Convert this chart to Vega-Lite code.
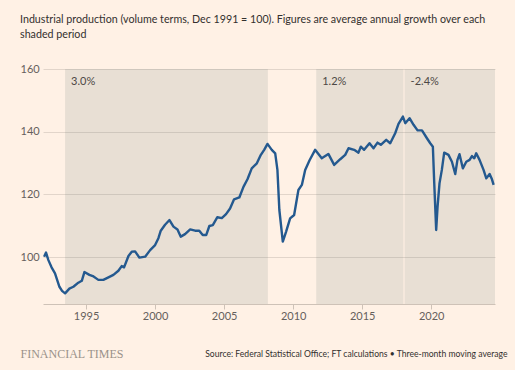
{
  "$schema": "https://vega.github.io/schema/vega-lite/v6.json",
  "width": 452,
  "height": 235,
  "autosize": {"type": "none"},
  "padding": {"left": 43, "top": 69, "right": 20, "bottom": 66},
  "background": "#FFF1E5",
  "config": {
    "view": {"stroke": null},
    "font": "Lato"
  },
  "title": {
    "text": ["Industrial production (volume terms, Dec 1991 = 100). Figures are average annual growth over each", "shaded period"],
    "anchor": "start",
    "frame": "group",
    "dx": -23,
    "offset": 22,
    "font": "Lato",
    "fontSize": 10.7,
    "fontWeight": "normal",
    "color": "#33302E",
    "lineHeight": 15
  },
  "datasets": {
    "periods": [
      {"start": 1993.48, "end": 2008.17, "label": "3.0%"},
      {"start": 2011.67, "end": 2017.99, "label": "1.2%"},
      {"start": 2018.07, "end": 2024.62, "label": "-2.4%"}
    ],
    "ip": [
      {"year": 1991.96, "value": 100.1},
      {"year": 1992.1, "value": 101.4},
      {"year": 1992.27, "value": 99.0},
      {"year": 1992.5, "value": 96.7},
      {"year": 1992.75, "value": 94.8},
      {"year": 1993.07, "value": 90.5},
      {"year": 1993.26, "value": 89.2},
      {"year": 1993.48, "value": 88.4},
      {"year": 1993.79, "value": 89.9},
      {"year": 1994.08, "value": 90.5},
      {"year": 1994.44, "value": 91.8},
      {"year": 1994.69, "value": 92.4},
      {"year": 1994.88, "value": 95.2},
      {"year": 1995.24, "value": 94.3},
      {"year": 1995.49, "value": 93.9},
      {"year": 1995.89, "value": 92.7},
      {"year": 1996.25, "value": 92.7},
      {"year": 1996.62, "value": 93.5},
      {"year": 1996.98, "value": 94.3},
      {"year": 1997.34, "value": 95.6},
      {"year": 1997.58, "value": 97.1},
      {"year": 1997.75, "value": 96.7},
      {"year": 1998.07, "value": 100.3},
      {"year": 1998.31, "value": 101.7},
      {"year": 1998.55, "value": 101.8},
      {"year": 1998.86, "value": 99.8},
      {"year": 1999.28, "value": 100.1},
      {"year": 1999.64, "value": 102.2},
      {"year": 2000.0, "value": 103.8},
      {"year": 2000.24, "value": 106.0},
      {"year": 2000.41, "value": 108.4},
      {"year": 2000.72, "value": 110.3},
      {"year": 2001.04, "value": 111.8},
      {"year": 2001.33, "value": 109.7},
      {"year": 2001.62, "value": 108.8},
      {"year": 2001.86, "value": 106.5},
      {"year": 2002.17, "value": 107.3},
      {"year": 2002.54, "value": 108.8},
      {"year": 2002.9, "value": 108.4},
      {"year": 2003.2, "value": 108.4},
      {"year": 2003.45, "value": 107.0},
      {"year": 2003.7, "value": 107.0},
      {"year": 2003.93, "value": 109.9},
      {"year": 2004.18, "value": 110.2},
      {"year": 2004.51, "value": 112.7},
      {"year": 2004.83, "value": 112.4},
      {"year": 2005.14, "value": 113.7},
      {"year": 2005.43, "value": 115.5},
      {"year": 2005.72, "value": 118.4},
      {"year": 2006.1, "value": 119.0},
      {"year": 2006.4, "value": 122.4},
      {"year": 2006.69, "value": 124.8},
      {"year": 2007.0, "value": 128.3},
      {"year": 2007.37, "value": 129.9},
      {"year": 2007.66, "value": 132.6},
      {"year": 2007.9, "value": 134.2},
      {"year": 2008.14, "value": 136.1},
      {"year": 2008.45, "value": 134.2},
      {"year": 2008.7, "value": 133.1},
      {"year": 2008.86, "value": 127.8},
      {"year": 2009.0, "value": 115.0},
      {"year": 2009.25, "value": 104.9},
      {"year": 2009.49, "value": 108.1},
      {"year": 2009.78, "value": 112.3},
      {"year": 2010.07, "value": 113.4},
      {"year": 2010.38, "value": 121.4},
      {"year": 2010.63, "value": 123.0},
      {"year": 2010.87, "value": 127.8},
      {"year": 2011.18, "value": 130.8},
      {"year": 2011.59, "value": 134.2},
      {"year": 2012.07, "value": 131.5},
      {"year": 2012.55, "value": 132.9},
      {"year": 2012.97, "value": 129.4},
      {"year": 2013.41, "value": 131.2},
      {"year": 2013.77, "value": 132.6},
      {"year": 2014.01, "value": 134.7},
      {"year": 2014.42, "value": 134.2},
      {"year": 2014.73, "value": 133.3},
      {"year": 2014.9, "value": 135.2},
      {"year": 2015.14, "value": 134.2},
      {"year": 2015.53, "value": 136.3},
      {"year": 2015.82, "value": 134.7},
      {"year": 2016.11, "value": 136.5},
      {"year": 2016.35, "value": 135.8},
      {"year": 2016.74, "value": 137.4},
      {"year": 2017.03, "value": 136.3},
      {"year": 2017.39, "value": 139.5},
      {"year": 2017.63, "value": 142.5},
      {"year": 2017.95, "value": 144.8},
      {"year": 2018.12, "value": 142.7},
      {"year": 2018.43, "value": 144.3},
      {"year": 2018.72, "value": 142.2},
      {"year": 2019.01, "value": 140.4},
      {"year": 2019.33, "value": 140.4},
      {"year": 2019.69, "value": 137.9},
      {"year": 2019.93, "value": 136.3},
      {"year": 2020.12, "value": 135.2},
      {"year": 2020.22, "value": 123.5},
      {"year": 2020.36, "value": 108.6},
      {"year": 2020.46, "value": 116.1},
      {"year": 2020.6, "value": 123.5},
      {"year": 2020.77, "value": 127.8},
      {"year": 2020.94, "value": 133.3},
      {"year": 2021.25, "value": 132.6},
      {"year": 2021.5, "value": 130.4},
      {"year": 2021.74, "value": 126.5},
      {"year": 2021.9, "value": 131.0},
      {"year": 2022.05, "value": 132.8},
      {"year": 2022.29, "value": 128.3},
      {"year": 2022.54, "value": 130.4},
      {"year": 2022.78, "value": 131.0},
      {"year": 2022.95, "value": 132.2},
      {"year": 2023.12, "value": 131.5},
      {"year": 2023.26, "value": 133.1},
      {"year": 2023.5, "value": 131.0},
      {"year": 2023.79, "value": 127.8},
      {"year": 2023.99, "value": 125.1},
      {"year": 2024.23, "value": 126.5},
      {"year": 2024.4, "value": 124.8},
      {"year": 2024.52, "value": 123.0}
    ]
  },
  "layer": [
    {
      "data": {"name": "periods"},
      "mark": {"type": "rect", "fill": "#667974", "opacity": 0.15},
      "encoding": {
        "x": {"field": "start", "type": "quantitative", "scale": {"domain": [1991.88, 2024.62], "nice": false, "zero": false}},
        "x2": {"field": "end"}
      }
    },
    {
      "data": {"name": "periods"},
      "mark": {"type": "text", "align": "left", "baseline": "top", "dx": 6, "dy": 7, "fontSize": 11, "color": "#4D4845", "font": "Lato"},
      "encoding": {
        "x": {"field": "start", "type": "quantitative"},
        "y": {"datum": 160, "type": "quantitative"},
        "text": {"field": "label"}
      }
    },
    {
      "data": {"name": "ip"},
      "mark": {"type": "line", "color": "#24598F", "strokeWidth": 2.4, "strokeJoin": "round"},
      "encoding": {
        "x": {
          "field": "year",
          "type": "quantitative",
          "axis": {
            "values": [1995, 2000, 2005, 2010, 2015, 2020],
            "format": "d",
            "grid": false,
            "domainColor": "#CEC2B7",
            "tickColor": "#CEC2B7",
            "tickSize": 5,
            "labelFontSize": 11,
            "labelColor": "#66605C",
            "labelPadding": 1,
            "title": "Source: Federal Statistical Office; FT calculations • Three-month moving average",
            "titleX": 464,
            "titleY": 49,
            "titleAlign": "right",
            "titleAnchor": null,
            "titleBaseline": "middle",
            "titleFontSize": 8.6,
            "titleFontWeight": "normal",
            "titleColor": "#33302E",
            "titleFont": "Lato"
          }
        },
        "y": {
          "field": "value",
          "type": "quantitative",
          "scale": {"domain": [85, 160], "nice": false, "zero": false},
          "axis": {
            "values": [100, 120, 140, 160],
            "grid": true,
            "gridColor": "#E2D5CA",
            "domain": false,
            "ticks": false,
            "tickSize": 0,
            "labelAlign": "left",
            "labelBaseline": "middle",
            "labelPadding": 23,
            "labelFontSize": 11,
            "labelColor": "#66605C",
            "title": "FINANCIAL TIMES",
            "titleAngle": 0,
            "titleX": -23,
            "titleY": 284,
            "titleAlign": "left",
            "titleAnchor": null,
            "titleBaseline": "middle",
            "titleFont": "Liberation Serif",
            "titleFontSize": 12,
            "titleFontWeight": "normal",
            "titleColor": "#9A918A"
          }
        }
      }
    }
  ]
}
